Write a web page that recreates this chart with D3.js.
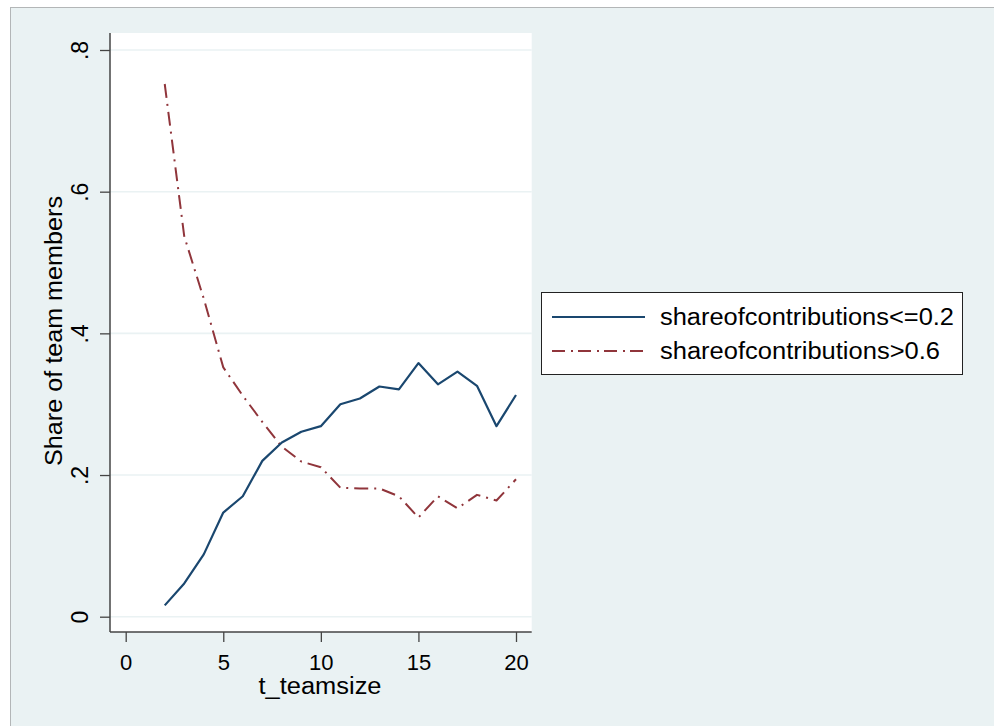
<!DOCTYPE html>
<html>
<head>
<meta charset="utf-8">
<script src="https://cdn.jsdelivr.net/npm/d3@7"></script>
<style>
  html, body { margin: 0; padding: 0; background: #ffffff; }
  svg { display: block; }
  text { font-family: "Liberation Sans", Arial, sans-serif; fill: #000; }
</style>
</head>
<body>
<svg id="chart" width="994" height="726"></svg>
<script>
// Team size on the x axis
const teamsize = [2, 3, 4, 5, 6, 7, 8, 9, 10, 11, 12, 13, 14, 15, 16, 17, 18, 19, 20];
// Share of team members whose share of contributions is <= 0.2
const shareLow = [0.016, 0.047, 0.088, 0.147, 0.170, 0.220, 0.246, 0.261, 0.269, 0.300,
                  0.308, 0.325, 0.321, 0.358, 0.328, 0.346, 0.326, 0.269, 0.313];
// Share of team members whose share of contributions is > 0.6
const shareHigh = [0.752, 0.537, 0.449, 0.352, 0.312, 0.275, 0.240, 0.219, 0.211, 0.182,
                   0.181, 0.181, 0.170, 0.140, 0.170, 0.153, 0.172, 0.164, 0.194];

const xTicks = [0, 5, 10, 15, 20];
const yTicks = [0, 0.2, 0.4, 0.6, 0.8];
const yTickLabels = ["0", ".2", ".4", ".6", ".8"];
const seriesNames = ["shareofcontributions<=0.2", "shareofcontributions>0.6"];

const svg = d3.select("#chart");

// graph region
svg.append("rect")
  .attr("x", 10.5).attr("y", 7.5).attr("width", 1000).attr("height", 1000)
  .attr("fill", "#eaf2f3").attr("stroke", "#b3b6b7").attr("stroke-width", 1);

const plot = { left: 110, right: 531.7, top: 33, bottom: 632 };

const x = d3.scaleLinear().domain([0, 20]).range([125.7, 516]);
const y = d3.scaleLinear().domain([0, 0.8]).range([616.7, 50]);

// plot region
svg.append("rect")
  .attr("x", plot.left).attr("y", plot.top)
  .attr("width", plot.right - plot.left).attr("height", plot.bottom - plot.top)
  .attr("fill", "#ffffff");

// horizontal grid lines
svg.append("g").selectAll("line").data(yTicks).join("line")
  .attr("x1", plot.left).attr("x2", plot.right)
  .attr("y1", d => y(d)).attr("y2", d => y(d))
  .attr("stroke", "#eaf2f3").attr("stroke-width", 1.6);

// series lines
const line = (vals) => d3.line()
  .x((d, i) => x(teamsize[i]))
  .y(d => y(d))(vals);

svg.append("path")
  .attr("d", line(shareHigh))
  .attr("fill", "none").attr("stroke", "#90353b").attr("stroke-width", 2)
  .attr("stroke-dasharray", "14,6,2,6")
  .attr("stroke-linejoin", "round");

svg.append("path")
  .attr("d", line(shareLow))
  .attr("fill", "none").attr("stroke", "#1a476f").attr("stroke-width", 2.2)
  .attr("stroke-linejoin", "round");

// y axis
const yAxis = svg.append("g").attr("transform", `translate(${plot.left},0)`)
  .call(d3.axisLeft(y).tickValues(yTicks).tickSize(10).tickFormat((d, i) => yTickLabels[i]));
yAxis.select(".domain").remove();
yAxis.selectAll(".tick line").attr("stroke", "#444").attr("stroke-width", 1.3);
yAxis.selectAll(".tick text").remove();
yAxis.selectAll(".tick").append("text")
  .attr("transform", "translate(-22,0) rotate(-90)")
  .attr("text-anchor", "middle")
  .attr("font-size", 23)
  .text((d, i) => yTickLabels[i]);
svg.append("line")
  .attr("x1", plot.left).attr("x2", plot.left)
  .attr("y1", plot.top).attr("y2", plot.bottom)
  .attr("stroke", "#444").attr("stroke-width", 1.5);

// x axis
const xAxis = svg.append("g").attr("transform", `translate(0,${plot.bottom})`)
  .call(d3.axisBottom(x).tickValues(xTicks).tickSize(10).tickFormat(d3.format("d")));
xAxis.select(".domain").remove();
xAxis.selectAll(".tick line").attr("stroke", "#444").attr("stroke-width", 1.3);
xAxis.selectAll(".tick text")
  .attr("y", 38).attr("dy", null)
  .attr("font-size", 22)
  .attr("font-family", "Liberation Sans, Arial, sans-serif")
  .attr("fill", "#000");
svg.append("line")
  .attr("x1", plot.left).attr("x2", plot.right)
  .attr("y1", plot.bottom).attr("y2", plot.bottom)
  .attr("stroke", "#444").attr("stroke-width", 1.5);

// axis titles
svg.append("text")
  .attr("x", 320).attr("y", 694)
  .attr("text-anchor", "middle")
  .attr("font-size", 23)
  .attr("textLength", 123).attr("lengthAdjust", "spacingAndGlyphs")
  .text("t_teamsize");

svg.append("text")
  .attr("transform", "translate(62,331) rotate(-90)")
  .attr("text-anchor", "middle")
  .attr("font-size", 23)
  .attr("textLength", 270).attr("lengthAdjust", "spacingAndGlyphs")
  .text("Share of team members");

// legend
const legend = svg.append("g");
legend.append("rect")
  .attr("x", 541.5).attr("y", 292.5).attr("width", 421).attr("height", 82)
  .attr("fill", "#ffffff").attr("stroke", "#222").attr("stroke-width", 1);

const legendRows = [
  { name: seriesNames[0], color: "#1a476f", dash: null, width: 2.2, ly: 317, ty: 325, len: 294 },
  { name: seriesNames[1], color: "#90353b", dash: "13,6,2,5", width: 2, ly: 351, ty: 358.5, len: 280 }
];
legendRows.forEach(r => {
  legend.append("line")
    .attr("x1", 552).attr("x2", 645)
    .attr("y1", r.ly).attr("y2", r.ly)
    .attr("stroke", r.color).attr("stroke-width", r.width)
    .attr("stroke-dasharray", r.dash);
  legend.append("text")
    .attr("x", 660).attr("y", r.ty)
    .attr("font-size", 23.5)
    .attr("textLength", r.len).attr("lengthAdjust", "spacingAndGlyphs")
    .text(r.name);
});
</script>
</body>
</html>
